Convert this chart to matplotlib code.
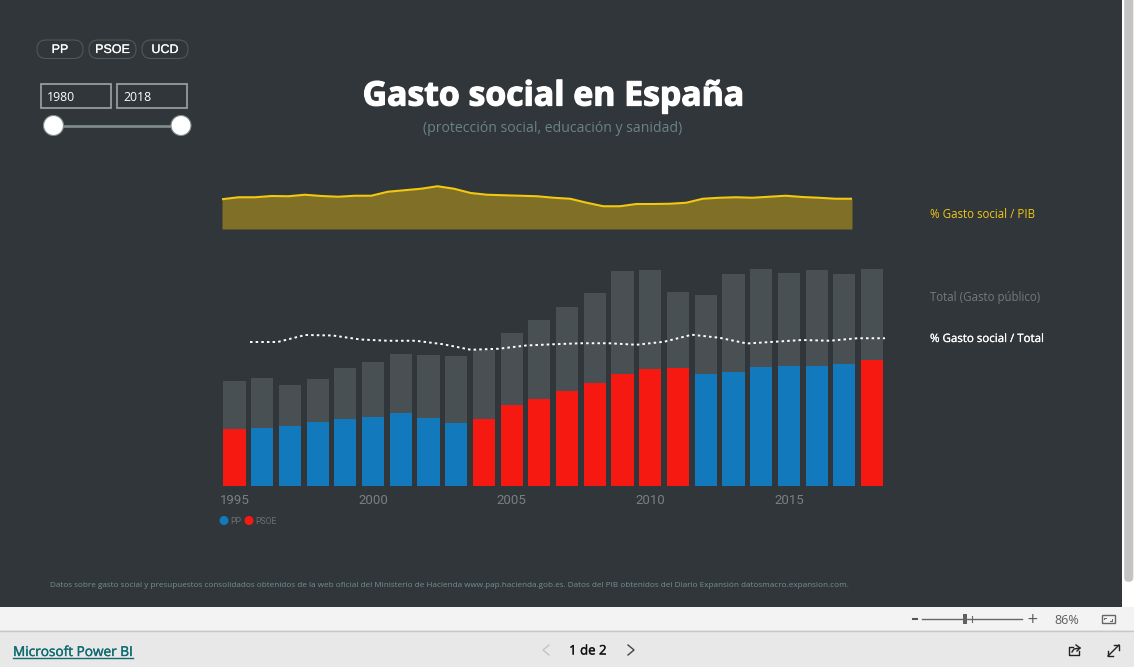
import matplotlib
matplotlib.use('Agg')
import matplotlib.pyplot as plt
import matplotlib.patheffects as pe
from matplotlib.patches import FancyBboxPatch, Rectangle, Circle

# gasto publico y gasto social por año (miles de millones aprox.)
years = list(range(1995, 2019))
total = [210, 217, 202, 214, 237, 249, 265, 262, 260, 272, 307, 332,
         358, 387, 431, 432, 389, 383, 425, 435, 427, 433, 424, 435]
social = [115, 117, 121, 128, 134, 138, 146, 137, 127, 135, 162, 175,
          191, 206, 225, 234, 237, 225, 229, 239, 240, 241, 245, 253]
party = ['PSOE', 'PP', 'PP', 'PP', 'PP', 'PP', 'PP', 'PP', 'PP', 'PSOE', 'PSOE', 'PSOE',
         'PSOE', 'PSOE', 'PSOE', 'PSOE', 'PSOE', 'PP', 'PP', 'PP', 'PP', 'PP', 'PP', 'PSOE']
pct_total = [57.6, 57.6, 60.4, 60.2, 58.6, 58.1, 58.1, 56.7, 54.5, 54.9, 56.2, 56.7,
             57.1, 57.1, 56.5, 57.7, 60.5, 59.3, 57.0, 57.7, 58.4, 58.1, 59.1, 59.1]

# % gasto social / PIB
pib_years = list(range(1980, 2019))
pct_pib = [23.8, 25.4, 25.4, 26.4, 26.2, 27.4, 26.4, 25.8, 26.6, 26.6, 29.8, 31.0, 32.2,
           34.2, 32.2, 28.8, 27.4, 27.0, 26.6, 26.2, 25.0, 24.2, 21.0, 18.2, 18.2, 20.0,
           20.0, 20.2, 21.0, 24.2, 25.0, 25.4, 25.0, 25.8, 26.6, 25.6, 25.0, 24.2, 24.2]

tick_years = [1995, 2000, 2005, 2010, 2015]
party_colors = {'PP': '#1279bd', 'PSOE': '#f51912'}
bg = '#30363a'
W, H = 1134, 667


def px_axes(fig, left, right, top, bottom):
    ax = fig.add_axes([left / W, 1 - bottom / H, (right - left) / W, (bottom - top) / H])
    ax.patch.set_alpha(0)
    for s in ax.spines.values():
        s.set_visible(False)
    return ax


fig = plt.figure(figsize=(W / 100, H / 100), dpi=100, facecolor='white')

# capa de fondo en pixeles (informe, scrollbar y barra de Power BI)
ui = fig.add_axes([0, 0, 1, 1], zorder=0)
ui.set_xlim(0, W)
ui.set_ylim(H, 0)
ui.axis('off')
ui.add_patch(Rectangle((0, 0), 1122, 607, fc=bg, ec='none'))
ui.add_patch(FancyBboxPatch((1128.5, -10), 0.5, 587.5, boxstyle='round,pad=4.3',
                            fc='#c4c4c4', ec='none'))
ui.add_patch(Rectangle((0, 607), W, 23, fc='#f3f3f3', ec='none'))
ui.add_patch(Rectangle((0, 630), W, 37, fc='#e8e8e8', ec='none'))
ui.plot([0, W], [630.5, 630.5], color='#c8c8c8', lw=1)

ui.text(553, 96.5, 'Gasto social en España', color='white', fontsize=24.3, fontweight='bold',
        family='Open Sans', ha='center', va='center',
        path_effects=[pe.withStroke(linewidth=0.9, foreground='white')])
ui.text(553, 128.5, '(protección social, educación y sanidad)', color='#6a8385', fontsize=10.1,
        family='Open Sans', ha='center', va='center')

# botones de partido
for label, x0, x1 in [('PP', 37, 83), ('PSOE', 89, 136), ('UCD', 142, 188)]:
    ui.add_patch(FancyBboxPatch((x0 + 9, 40 + 9), x1 - x0 - 18, 0.5, boxstyle='round,pad=9',
                                fc='none', ec='#50585b', lw=0.8))
    ui.text((x0 + x1) / 2, 50, label, color='white', fontsize=9, family='Liberation Sans',
            ha='center', va='center',
            path_effects=[pe.withStroke(linewidth=0.12, foreground='white')])

# slicer de años
for label, x0 in [('1980', 40), ('2018', 116)]:
    ui.add_patch(Rectangle((x0 + 0.5, 84), 70.5, 24, fc='none', ec='#969b9b', lw=1.3))
    ui.text(x0 + 7, 97.5, label, color='white', fontsize=8.8, family='Open Sans', va='center')
ui.plot([53, 181], [125.5, 125.5], color='#7d8a88', lw=2)
for cx in [53.5, 181]:
    ui.add_patch(Circle((cx, 125.5), 10, fc='white', ec='#7d8a88', lw=0.8, zorder=3))

# textos de la derecha
ui.text(930, 214.5, '% Gasto social / PIB', color='#f2c811', fontsize=8.3, family='Open Sans', va='center')
ui.text(930, 297, 'Total (Gasto público)', color='#737a7c', fontsize=8.3, family='Open Sans', va='center')
ui.text(930, 338.5, '% Gasto social / Total', color='white', fontsize=8.3, family='Open Sans', va='center',
        path_effects=[pe.withStroke(linewidth=0.15, foreground='white')])

ui.text(449, 585.5, 'Datos sobre gasto social y presupuestos consolidados obtenidos de la web oficial del '
        'Ministerio de Hacienda www.pap.hacienda.gob.es. Datos del PIB obtenidos del Diario Expansión '
        'datosmacro.expansion.com.', color='#76908f', fontsize=5.9, family='Open Sans',
        ha='center', va='center')

# leyenda
ui.scatter([224, 249], [520.5, 520.5], s=42, c=[party_colors['PP'], party_colors['PSOE']], linewidths=0)
ui.text(230, 521, 'PP', color='#6b7173', fontsize=6.2, family='Roboto', va='center')
ui.text(255, 521, 'PSOE', color='#6b7173', fontsize=6.2, family='Roboto', va='center')

# barra inferior
ui.text(13, 652.5, 'Microsoft Power BI', color='#0f6b70', fontsize=9.8, family='Open Sans', va='center',
        path_effects=[pe.withStroke(linewidth=0.25, foreground='#0f6b70')])
ui.plot([13, 133], [658, 658], color='#0f6b70', lw=1)
ui.text(588, 651, '1 de 2', color='#111111', fontsize=9.5, family='Open Sans', ha='center', va='center',
        path_effects=[pe.withStroke(linewidth=0.25, foreground='#111111')])
ui.plot([549, 543, 549], [645, 650, 655], color='#c4c4c4', lw=1)
ui.plot([628, 634, 628], [645, 650, 655], color='#444444', lw=1)
ui.plot([913, 917], [619, 619], color='#555555', lw=1.5)
ui.plot([922, 1022], [619, 619], color='#666666', lw=1)
ui.add_patch(Rectangle((963, 614), 4, 10, fc='#606060', ec='none'))
ui.plot([972, 972], [616, 622], color='#666666', lw=0.8)
ui.text(1032, 619, '+', color='#555555', fontsize=10, ha='center', va='center')
ui.text(1067, 620, '86%', color='#605e5c', fontsize=9, family='Open Sans', ha='center', va='center')

# icono ajustar a pagina
ui.add_patch(Rectangle((1101.5, 615), 13, 8, fc='none', ec='#666666', lw=1))
ui.plot([1104, 1104, 1106], [619, 617.5, 617.5], color='#666666', lw=0.7)
ui.plot([1112, 1112, 1110], [619, 620.5, 620.5], color='#666666', lw=0.7)

# iconos compartir y pantalla completa
ui.plot([1073, 1069, 1069, 1079, 1079], [647, 647, 655, 655, 651], color='#222222', lw=1)
ui.plot([1072, 1074, 1080], [652, 649, 648], color='#222222', lw=1)
ui.plot([1076, 1080, 1077], [645, 648, 651], color='#222222', lw=1)
ui.plot([1108, 1119], [656, 645], color='#222222', lw=1)
ui.plot([1114, 1119, 1119], [645, 645, 650], color='#222222', lw=1)
ui.plot([1108, 1108, 1113], [651, 656, 656], color='#222222', lw=1)

# area % gasto social / PIB
ax_pib = px_axes(fig, 222, 852, 180, 229)
ax_pib.fill_between(pib_years, pct_pib, 0, color='#7f6f27', lw=0)
ax_pib.plot(pib_years, pct_pib, color='#f2c811', lw=1.5, solid_capstyle='butt')
ax_pib.set_xlim(1980, 2018)
ax_pib.set_ylim(0, 39.2)
ax_pib.set_xticks([])
ax_pib.set_yticks([])

# barras total y gasto social
ax = px_axes(fig, 220.6, 885.9, 260, 486)
ax.bar(years, total, width=0.8, color='#485053', lw=0)
ax.bar(years, social, width=0.8, color=[party_colors[p] for p in party], lw=0)
ax.set_xlim(1994.5, 2018.5)
ax.set_ylim(0, 452)
ax.set_yticks([])
ax.set_xticks(tick_years)
ax.set_xticklabels([str(y) for y in tick_years], color='#7a7f82', fontsize=9.5, family='Roboto')
ax.tick_params(axis='x', length=0, pad=5.5)

# linea punteada % sobre total
ax_line = px_axes(fig, 250, 885, 260, 486)
ax_line.plot(years, pct_total, color='white', lw=1.4, linestyle=(0, (1.3, 1.6)), clip_on=False)
ax_line.set_xlim(1995, 2018)
ax_line.set_ylim(0, 90.4)
ax_line.set_xticks([])
ax_line.set_yticks([])

fig.savefig('out.png', dpi=100, facecolor=fig.get_facecolor())
